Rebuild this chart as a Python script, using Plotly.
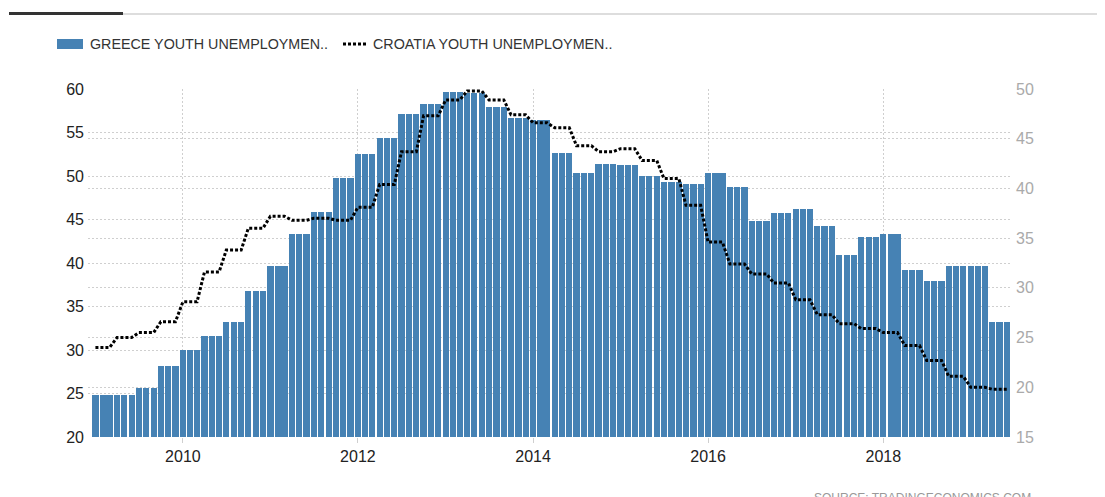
import pandas as pd
import plotly.graph_objects as go

# ---- data (monthly, Jan 2009 .. Jun 2019) ----
months = pd.date_range("2009-01-01", "2019-06-01", freq="MS")

greece = [
    24.8, 24.8, 24.8, 24.8, 24.8, 24.8, 25.6, 25.6, 25.6, 28.2, 28.2, 28.2,  # 2009
    30.0, 30.0, 30.0, 31.6, 31.6, 31.6, 33.2, 33.2, 33.2, 36.8, 36.8, 36.8,  # 2010
    39.7, 39.7, 39.7, 43.3, 43.3, 43.3, 45.9, 45.9, 45.9, 49.8, 49.8, 49.8,  # 2011
    52.5, 52.5, 52.5, 54.4, 54.4, 54.4, 57.1, 57.1, 57.1, 58.3, 58.3, 58.3,  # 2012
    59.7, 59.7, 59.7, 59.5, 59.5, 59.5, 57.9, 57.9, 57.9, 56.7, 56.7, 56.7,  # 2013
    56.4, 56.4, 56.4, 52.6, 52.6, 52.6, 50.4, 50.4, 50.4, 51.4, 51.4, 51.4,  # 2014
    51.3, 51.3, 51.3, 50.0, 50.0, 50.0, 49.3, 49.3, 49.3, 49.1, 49.1, 49.1,  # 2015
    50.3, 50.3, 50.3, 48.7, 48.7, 48.7, 44.8, 44.8, 44.8, 45.8, 45.8, 45.8,  # 2016
    46.2, 46.2, 46.2, 44.2, 44.2, 44.2, 40.9, 40.9, 40.9, 43.0, 43.0, 43.0,  # 2017
    43.3, 43.3, 43.3, 39.2, 39.2, 39.2, 37.9, 37.9, 37.9, 39.7, 39.7, 39.7,  # 2018
    39.7, 39.7, 39.7, 33.2, 33.2, 33.2,                                      # 2019
]

croatia = [
    24.0, 24.0, 24.0, 25.0, 25.0, 25.0, 25.5, 25.5, 25.5, 26.6, 26.6, 26.6,  # 2009
    28.6, 28.6, 28.6, 31.6, 31.6, 31.6, 33.8, 33.8, 33.8, 36.0, 36.0, 36.0,  # 2010
    37.2, 37.2, 37.2, 36.8, 36.8, 36.8, 37.0, 37.0, 37.0, 36.8, 36.8, 36.8,  # 2011
    38.1, 38.1, 38.1, 40.4, 40.4, 40.4, 43.7, 43.7, 43.7, 47.3, 47.3, 47.3,  # 2012
    48.9, 48.9, 48.9, 49.8, 49.8, 49.8, 48.9, 48.9, 48.9, 47.4, 47.4, 47.4,  # 2013
    46.6, 46.6, 46.6, 46.1, 46.1, 46.1, 44.3, 44.3, 44.3, 43.7, 43.7, 43.7,  # 2014
    44.0, 44.0, 44.0, 42.8, 42.8, 42.8, 41.0, 41.0, 41.0, 38.3, 38.3, 38.3,  # 2015
    34.6, 34.6, 34.6, 32.4, 32.4, 32.4, 31.4, 31.4, 31.4, 30.5, 30.5, 30.5,  # 2016
    28.8, 28.8, 28.8, 27.3, 27.3, 27.3, 26.4, 26.4, 26.4, 25.9, 25.9, 25.9,  # 2017
    25.5, 25.5, 25.5, 24.2, 24.2, 24.2, 22.7, 22.7, 22.7, 21.1, 21.1, 21.1,  # 2018
    20.0, 20.0, 20.0, 19.8, 19.8, 19.8,                                      # 2019
]

greece_name = "GREECE YOUTH UNEMPLOYMEN.."
croatia_name = "CROATIA YOUTH UNEMPLOYMEN.."
source_text = "SOURCE: TRADINGECONOMICS.COM"

# ---- style ----
W, H = 1105, 497
OFF = 8  # page body margin: screen pixel = figure pixel + 8
L, R, T, B = 80, 101, 81, 68
PW, PH = W - L - R, H - T - B
BAR = "#4682B4"
GRID = "#cfcfcf"
FONT = "Liberation Sans, Arial, sans-serif"


def px_x(p):
    """screen pixel x -> paper x"""
    return (p - OFF - L) / PW


def px_y(p):
    """screen pixel y -> paper y"""
    return (H - B - (p - OFF)) / PH


fig = go.Figure()
fig.add_trace(go.Bar(
    x=months, y=greece, name=greece_name,
    marker=dict(color=BAR, line=dict(width=0)),
    width=26 * 86400000, yaxis="y", showlegend=False,
))
fig.add_trace(go.Scatter(
    x=months, y=croatia, name=croatia_name, mode="lines",
    line=dict(color="#000000", width=3, dash="3px,2px"),
    yaxis="y2", showlegend=False,
))

shapes = [
    # top decoration
    dict(type="line", xref="paper", yref="paper", x0=px_x(9), x1=px_x(123),
         y0=px_y(13.5), y1=px_y(13.5), line=dict(color="#333333", width=3)),
    dict(type="line", xref="paper", yref="paper", x0=px_x(123), x1=px_x(1105),
         y0=px_y(14), y1=px_y(14), line=dict(color="#dddddd", width=2)),
    # legend swatches
    dict(type="rect", xref="paper", yref="paper", x0=px_x(57), x1=px_x(83),
         y0=px_y(49), y1=px_y(39), fillcolor=BAR, line=dict(width=0)),
    dict(type="line", xref="paper", yref="paper", x0=px_x(343), x1=px_x(368),
         y0=px_y(44), y1=px_y(44), line=dict(color="#000000", width=3, dash="3px,2px")),
]

annotations = [
    dict(text=greece_name, xref="paper", yref="paper", x=px_x(88), y=px_y(44),
         xanchor="left", yanchor="middle", showarrow=False,
         font=dict(family=FONT, size=14.3, color="#333333")),
    dict(text=croatia_name, xref="paper", yref="paper", x=px_x(371), y=px_y(44),
         xanchor="left", yanchor="middle", showarrow=False,
         font=dict(family=FONT, size=14.3, color="#333333")),
    dict(text=source_text, xref="paper", yref="paper", x=px_x(922), y=px_y(489),
         xanchor="center", yanchor="top", showarrow=False,
         font=dict(family=FONT, size=12, color="#999999")),
]

fig.update_layout(
    width=W, height=H,
    margin=dict(l=L, r=R, t=T, b=B, autoexpand=False),
    paper_bgcolor="#ffffff", plot_bgcolor="#ffffff",
    font=dict(family=FONT),
    bargap=0,
    shapes=shapes,
    annotations=annotations,
    xaxis=dict(
        type="date", range=["2008-12-01", "2019-06-22"],
        tick0="2010-01-01", dtick="M24", tickformat="%Y",
        showgrid=True, gridcolor=GRID, griddash="2px,2px", gridwidth=1,
        ticks="outside", ticklen=5, tickcolor=GRID, tickwidth=1,
        showline=False, zeroline=False,
        tickfont=dict(family=FONT, size=16, color="#222222"),
    ),
    yaxis=dict(
        range=[20, 60], tick0=20, dtick=5,
        showgrid=True, gridcolor=GRID, griddash="2px,2px", gridwidth=1,
        zeroline=False, showline=False, ticks="",
        ticklabelstandoff=3,
        tickfont=dict(family=FONT, size=16, color="#222222"),
    ),
    yaxis2=dict(
        range=[15, 50], tick0=15, dtick=5, overlaying="y", side="right",
        showgrid=True, gridcolor=GRID, griddash="2px,2px", gridwidth=1,
        zeroline=False, showline=False, ticks="",
        ticklabelstandoff=3,
        tickfont=dict(family=FONT, size=16, color="#aaaaaa"),
    ),
)

fig.write_html("out.html")
